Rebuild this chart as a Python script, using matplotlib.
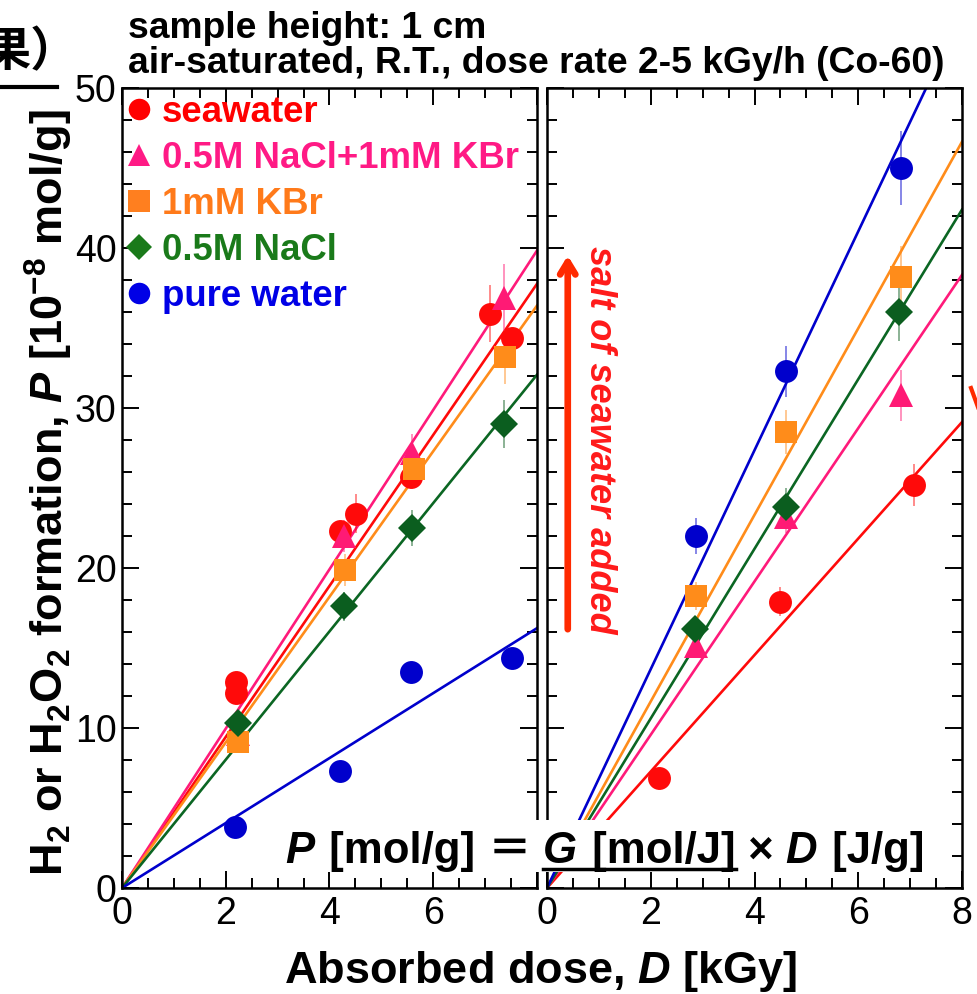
import numpy as np
import matplotlib
matplotlib.use("Agg")
import matplotlib.pyplot as plt
from matplotlib.lines import Line2D
from matplotlib.patches import Rectangle
from matplotlib.ticker import MultipleLocator
from matplotlib.colors import to_rgba

plt.rcParams['font.family'] = ['Liberation Sans', 'Noto Sans CJK JP', 'DejaVu Sans']
plt.rcParams['mathtext.fontset'] = 'custom'
plt.rcParams['mathtext.rm'] = 'Liberation Sans:bold'
plt.rcParams['mathtext.it'] = 'Liberation Sans:bold:italic'
plt.rcParams['mathtext.bf'] = 'Liberation Sans:bold'

# ---------------- data ----------------
series_names = ["seawater", "0.5M NaCl+1mM KBr", "1mM KBr", "0.5M NaCl", "pure water"]

# left panel
sea_L_x = [2.19, 2.19, 4.21, 4.51, 5.58, 7.09, 7.52]
sea_L_y = [12.9, 12.2, 22.3, 23.4, 25.7, 35.9, 34.4]
sea_L_e = [0, 0, 0, 1.2, 0, 1.8, 0]
mix_L_x = [2.24, 4.28, 5.59, 7.37]
mix_L_y = [9.6, 22.0, 27.2, 36.9]
mix_L_e = [0, 1.0, 1.2, 2.1]
kbr_L_x = [2.24, 4.30, 5.63, 7.39]
kbr_L_y = [9.1, 19.9, 26.2, 33.2]
kbr_L_e = [0.5, 1.0, 0.8, 1.7]
nacl_L_x = [2.24, 4.28, 5.60, 7.37]
nacl_L_y = [10.3, 17.6, 22.5, 29.0]
nacl_L_e = [0.5, 0.9, 1.1, 1.5]
pure_L_x = [2.18, 4.21, 5.58, 7.52]
pure_L_y = [3.8, 7.3, 13.5, 14.4]
pure_L_e = [0, 0, 0, 0]
slopes_L = [4.72, 4.98, 4.55, 4.01, 2.03]   # seawater, mix, KBr, NaCl, pure

# right panel
sea_R_x = [2.16, 4.50, 7.08]
sea_R_y = [6.9, 17.9, 25.2]
sea_R_e = [0.3, 0.9, 1.3]
mix_R_x = [2.87, 4.61, 6.82]
mix_R_y = [15.1, 23.2, 30.8]
mix_R_e = [0.5, 1.0, 1.6]
kbr_R_x = [2.87, 4.61, 6.82]
kbr_R_y = [18.25, 28.5, 38.2]
kbr_R_e = [0.9, 1.4, 1.9]
nacl_R_x = [2.86, 4.60, 6.79]
nacl_R_y = [16.2, 23.8, 36.0]
nacl_R_e = [0.6, 1.2, 1.8]
pure_R_x = [2.87, 4.60, 6.82]
pure_R_y = [22.0, 32.3, 45.0]
pure_R_e = [1.1, 1.6, 2.3]
slopes_R = [3.64, 4.79, 5.83, 5.30, 6.84]

x_ticks = [0, 2, 4, 6, 8]
x_ticklabels_L = ["0", "2", "4", "6", ""]
x_ticklabels_R = ["0", "2", "4", "6", "8"]
y_ticks = [0, 10, 20, 30, 40, 50]

# ---------------- style ----------------
line_colors = ["#FF0A0A", "#FF1A7A", "#FF8C1A", "#0B6623", "#0000CC"]
mark_colors = ["#FF0A0A", "#FF1A75", "#FF8C1A", "#0B5E1F", "#0000CC"]
markers = ["o", "^", "s", "D", "o"]
msizes = [16.5, 17.5, 16.5, 14, 16.5]
text_colors = ["#FF0000", "#FF1A85", "#FF7A1A", "#1A7A1A", "#0000E6"]
leg_mcolors = ["#FF0000", "#FF1A85", "#FF7F1F", "#1A7A1A", "#0000E6"]

W, H = 978, 994
fig = plt.figure(figsize=(W / 100, H / 100), dpi=100)
axL = fig.add_axes([122 / W, 106 / H, 415 / W, 800 / H])
axR = fig.add_axes([547 / W, 106 / H, 415 / W, 800 / H])

left_data = [(sea_L_x, sea_L_y, sea_L_e), (mix_L_x, mix_L_y, mix_L_e), (kbr_L_x, kbr_L_y, kbr_L_e),
             (nacl_L_x, nacl_L_y, nacl_L_e), (pure_L_x, pure_L_y, pure_L_e)]
right_data = [(sea_R_x, sea_R_y, sea_R_e), (mix_R_x, mix_R_y, mix_R_e), (kbr_R_x, kbr_R_y, kbr_R_e),
              (nacl_R_x, nacl_R_y, nacl_R_e), (pure_R_x, pure_R_y, pure_R_e)]

for ax, data, slopes, xtl in [(axL, left_data, slopes_L, x_ticklabels_L),
                              (axR, right_data, slopes_R, x_ticklabels_R)]:
    xs = np.array([0.0, 8.0])
    for i in range(5):
        ax.plot(xs, slopes[i] * xs, color=line_colors[i], lw=1.9, zorder=2)
    for i in range(5):
        x, y, e = data[i]
        ax.errorbar(x, y, yerr=e, fmt=markers[i], ms=msizes[i], mfc=mark_colors[i], mec=mark_colors[i],
                     mew=0, ecolor=to_rgba(mark_colors[i], 0.6), elinewidth=1.1, capsize=4.5,
                     capthick=1.1, zorder=3)
    ax.set_xlim(0, 8)
    ax.set_ylim(0, 50)
    ax.set_xticks(x_ticks)
    ax.set_xticklabels(xtl)
    ax.xaxis.set_minor_locator(MultipleLocator(0.5))
    ax.set_yticks(y_ticks)
    ax.yaxis.set_minor_locator(MultipleLocator(2))
    ax.tick_params(which='both', direction='in', top=True, right=True, width=1.4, labelsize=27, pad=6)
    ax.tick_params(which='major', length=12)
    ax.tick_params(which='minor', length=7)
    ax.tick_params(axis='y', pad=4)
    for s in ax.spines.values():
        s.set_linewidth(1.8)

axR.set_yticklabels([])

# legend
handles = [Line2D([], [], ls='none', marker=markers[i], ms=msizes[i] - 1.0, mfc=leg_mcolors[i],
                  mec=leg_mcolors[i], mew=0) for i in range(5)]
axL.legend(handles, series_names, loc='upper left', frameon=False,
           prop=dict(weight='bold', size=26.4), labelcolor=text_colors,
           handletextpad=0.33, labelspacing=0.3, borderaxespad=0.05, handlelength=0.55,
           borderpad=0.15)

# arrow and annotation in right panel
axR.annotate('', xy=(0.4, 39.7), xytext=(0.4, 16.0),
             arrowprops=dict(arrowstyle='->,head_length=0.9,head_width=0.55', lw=4.8, color='#FF2A00'))
axR.text(1.02, 28.0, "salt of seawater added", rotation=-90, ha='center', va='center',
         color='#FF1A1A', fontsize=26, fontweight='bold', fontstyle='italic')

# titles
fig.text(128 / W, 1 - 38 / H, "sample height: 1 cm", fontsize=26.8, fontweight='bold', va='baseline')
fig.text(128 / W, 1 - 73 / H, "air-saturated, R.T., dose rate 2-5 kGy/h (Co-60)", fontsize=26.8,
         fontweight='bold', va='baseline')

# axis labels
fig.text(541 / W, 1 - 971 / H, "Absorbed dose, $D$ [kGy]", fontsize=32.5, fontweight='bold',
         ha='center', va='center')
fig.text(49 / W, 1 - 493 / H, "H$_2$ or H$_2$O$_2$ formation, $P$ [10$^{-8}$ mol/g]", fontsize=32.5,
         fontweight='bold', rotation=90, ha='center', va='center')

# clipped fragments at the edges
fig.text(-16 / W, 1 - 52 / H, "果）", fontsize=34, fontweight='bold', va='center',
         family=['Noto Sans CJK JP'])
fig.add_artist(Line2D([0, 57 / W], [1 - 87 / H, 1 - 87 / H], lw=3, color='black',
                      transform=fig.transFigure))
fig.add_artist(Line2D([971 / W, 979 / W], [1 - 388 / H, 1 - 410 / H], lw=3, color='#FF2A00',
                      transform=fig.transFigure))

# formula with white box
fig.add_artist(Rectangle((278 / W, 1 - 872 / H), (935 - 278) / W, 52 / H, transform=fig.transFigure,
                         facecolor='white', edgecolor='none', zorder=5))
pieces = [("P", 'italic'), (" [mol/g] ", 'normal'), ("＝", 'normal'), (" ", 'normal'),
          ("G", 'italic'), (" [mol/J]", 'normal'), (" × ", 'normal'), ("D", 'italic'), (" [J/g]", 'normal')]
fig.canvas.draw()
renderer = fig.canvas.get_renderer()
xpos = 285.0
ybase = 1 - 863 / H
ustart = uend = None
for k, (txt, sty) in enumerate(pieces):
    t = fig.text(xpos / W, ybase, txt, fontsize=31.5, fontweight='bold', fontstyle=sty, va='baseline',
                 ha='left', zorder=6, family=['Liberation Sans', 'Noto Sans CJK JP'])
    bb = t.get_window_extent(renderer)
    if k == 4:
        ustart = xpos
    xpos = bb.x1 + (3 if sty == 'italic' else 0)
    if k == 5:
        uend = bb.x1
fig.add_artist(Line2D([ustart / W, uend / W], [1 - 869 / H, 1 - 869 / H], lw=2.5, color='black',
                      transform=fig.transFigure, zorder=6))

fig.savefig("out.png", dpi=100)
